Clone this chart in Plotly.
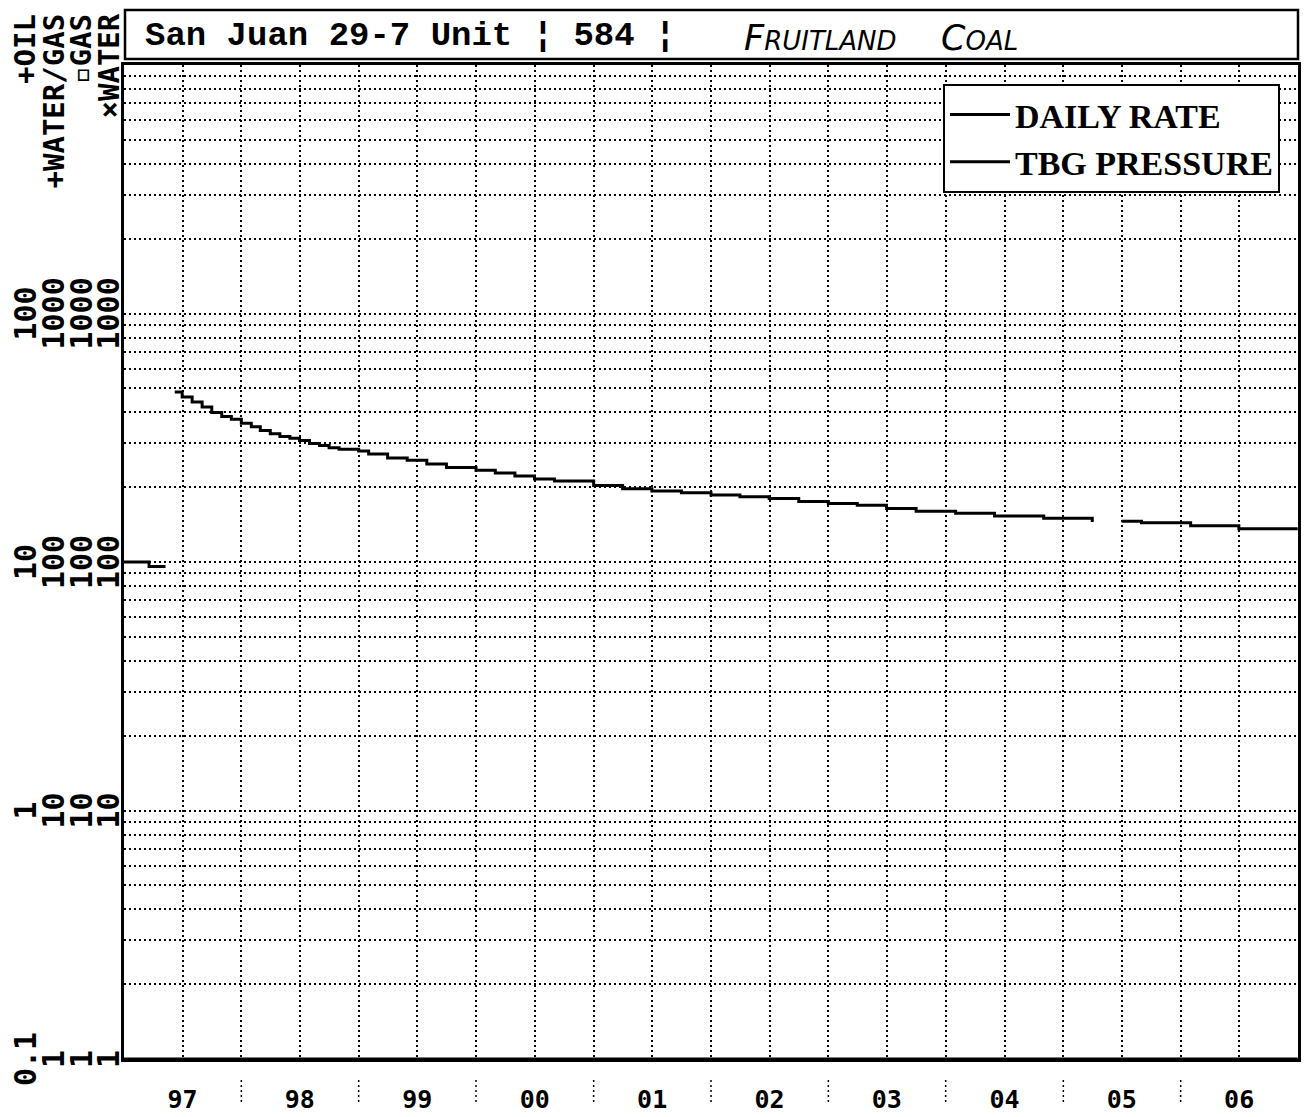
import plotly.graph_objects as go

# ---------------- data ----------------
rate_dates = ["1997-06-08", "1997-07-01", "1997-08-01", "1997-09-01", "1997-10-01", "1997-11-01",
              "1997-12-01", "1998-01-01", "1998-02-01", "1998-03-01", "1998-04-01", "1998-05-01",
              "1998-06-01", "1998-07-01", "1998-08-01", "1998-09-01", "1998-10-01", "1998-11-01",
              "1999-01-01", "1999-02-01", "1999-04-01", "1999-06-01", "1999-08-01", "1999-10-01",
              "2000-01-01", "2000-03-01", "2000-05-01", "2000-07-01", "2000-09-01", "2001-01-01",
              "2001-04-01", "2001-07-01", "2001-10-01", "2002-01-01", "2002-04-01", "2002-07-01",
              "2002-10-01", "2003-01-01", "2003-04-01", "2003-07-01", "2003-10-01", "2004-02-01",
              "2004-06-01", "2004-11-01", "2005-04-01", "2005-06-10", "2005-07-01", "2005-09-01",
              "2006-02-01", "2006-07-01", "2006-12-31"]
rate_values = [483, 461, 440, 420, 400, 385,
               375, 362, 350, 338, 328, 320,
               315, 308, 300, 294, 288, 284,
               280, 272, 262, 257, 248, 240,
               234, 228, 222, 216, 212, 203,
               197, 193, 190, 186, 183, 180,
               175, 172, 169, 164, 160, 157,
               153, 150, 145, None, 146, 144,
               140, 136, 136]

tbg_dates = ["1997-01-01", "1997-03-20", "1997-05-10"]
tbg_values = [100, 96, 96]

water_dates = ["1997-01-01", "2006-12-31"]
water_values = [1.0, 1.0]

year_labels = ["97", "98", "99", "00", "01", "02", "03", "04", "05", "06"]
years = list(range(1997, 2007))

col_oil = ["0.1", "1", "10", "100"]
col_wg = ["1", "10", "100", "1000"]
col_gas = ["1", "10", "100", "1000"]
col_water = ["1", "10", "100", "1000"]
col_headers = ["+OIL", "+WATER/GAS", "\u25abGAS", "\u00d7WATER"]

# ---------------- figure ----------------
W, H = 1304, 1117
L, R, T, B = 124, 1298, 65, 1059   # plot area in window pixels
pw, ph = R - L, B - T


def px_x(p):
    return (p - L) / pw


def px_y(p):
    return (B - p) / ph


fig = go.Figure()
fig.add_trace(go.Scatter(x=rate_dates, y=rate_values, mode="lines", name="DAILY RATE",
                         line=dict(color="black", width=3, shape="hv"), connectgaps=False))
fig.add_trace(go.Scatter(x=tbg_dates, y=tbg_values, mode="lines", name="TBG PRESSURE",
                         line=dict(color="black", width=3, shape="hv")))
fig.add_trace(go.Scatter(x=water_dates, y=water_values, mode="lines", name="WATER",
                         showlegend=False, line=dict(color="black", width=3), cliponaxis=False))

mid_year = [f"{y}-07-02" for y in years]
jan_year = [f"{y}-01-01" for y in years[1:]]

ytv = []
for k in range(4):
    for m in range(1, 10):
        ytv.append(m * 10 ** k)
ytv.append(10000)

mono = "DejaVu Sans Mono"
GD = "2px,3px"

fig.update_layout(
    width=W, height=H,
    margin=dict(l=L, r=W - R, t=T, b=H - B, pad=0, autoexpand=False),
    paper_bgcolor="white", plot_bgcolor="white",
    showlegend=True,
    legend=dict(x=px_x(943), y=px_y(84), xanchor="left", yanchor="top",
                bordercolor="black", borderwidth=2, bgcolor="white",
                font=dict(family="Liberation Serif", size=34, color="black", weight="bold"),
                itemwidth=60, tracegroupgap=0),
    xaxis=dict(type="date", range=["1997-01-01", "2007-01-01"], automargin=False,
               tickvals=mid_year, ticktext=year_labels, ticks="",
               tickfont=dict(family=mono, size=25, color="black", weight="bold"),
               ticklabelstandoff=16,
               showgrid=True, gridcolor="black", gridwidth=1.5, griddash=GD,
               minor=dict(tickvals=jan_year, showgrid=True, gridcolor="black",
                          gridwidth=1.5, griddash=GD),
               showline=True, linecolor="black", linewidth=3, mirror=True,
               zeroline=False),
    yaxis=dict(type="log", range=[0, 4], tickvals=ytv, showticklabels=False, ticks="",
               automargin=False,
               showgrid=True, gridcolor="black", gridwidth=1.5, griddash=GD,
               showline=True, linecolor="black", linewidth=3, mirror=True,
               zeroline=False),
)

# separators between year labels
for d in jan_year:
    fig.add_shape(type="line", xref="x", yref="paper", x0=d, x1=d,
                  y0=px_y(1080), y1=px_y(1102),
                  line=dict(color="black", width=1.5, dash=GD))

# title box
fig.add_shape(type="rect", xref="paper", yref="paper", x0=px_x(125), x1=px_x(R),
              y0=px_y(59), y1=px_y(10), line=dict(color="black", width=2.5),
              fillcolor="white", layer="above")
fig.add_annotation(xref="paper", yref="paper", x=px_x(143), y=px_y(36),
                   xanchor="left", yanchor="middle", showarrow=False,
                   text="San Juan 29-7 Unit \u00a6 584 \u00a6",
                   font=dict(family="Liberation Mono", size=34, color="black", weight="bold"))
fig.add_annotation(xref="paper", yref="paper", x=px_x(742), y=px_y(38),
                   xanchor="left", yanchor="middle", showarrow=False,
                   text="<i>F<span style='font-size:26px'>RUITLAND</span>&nbsp;&nbsp;&nbsp; C<span style='font-size:26px'>OAL</span></i>",
                   font=dict(family="DejaVu Sans", size=35, color="black"))

# y-axis label columns
columns = [(25, col_oil), (53, col_wg), (81, col_gas), (108, col_water)]
for cx, labels in columns:
    for k, lab in enumerate(labels):
        fig.add_annotation(xref="paper", yref="y", x=px_x(cx), y=k,
                           xanchor="center", yanchor="middle", textangle=-90,
                           showarrow=False, text=lab,
                           font=dict(family=mono, size=30, color="black", weight="bold"))
for (cx, _), hdr in zip(columns, col_headers):
    fig.add_annotation(xref="paper", yref="paper", x=px_x(cx), y=px_y(12),
                       xanchor="center", yanchor="top", textangle=-90,
                       showarrow=False, text=hdr,
                       font=dict(family=mono, size=29, color="black", weight="bold"))

post = ("document.documentElement.style.margin='0';"
        "document.documentElement.style.overflow='hidden';"
        "document.body.style.margin='0';"
        "document.body.style.overflow='hidden';"
        "var gd=document.getElementById('{plot_id}');"
        "gd.style.position='fixed';gd.style.top='0px';gd.style.left='0px';")

fig.write_html("out.html", post_script=post, config={"displayModeBar": False})
